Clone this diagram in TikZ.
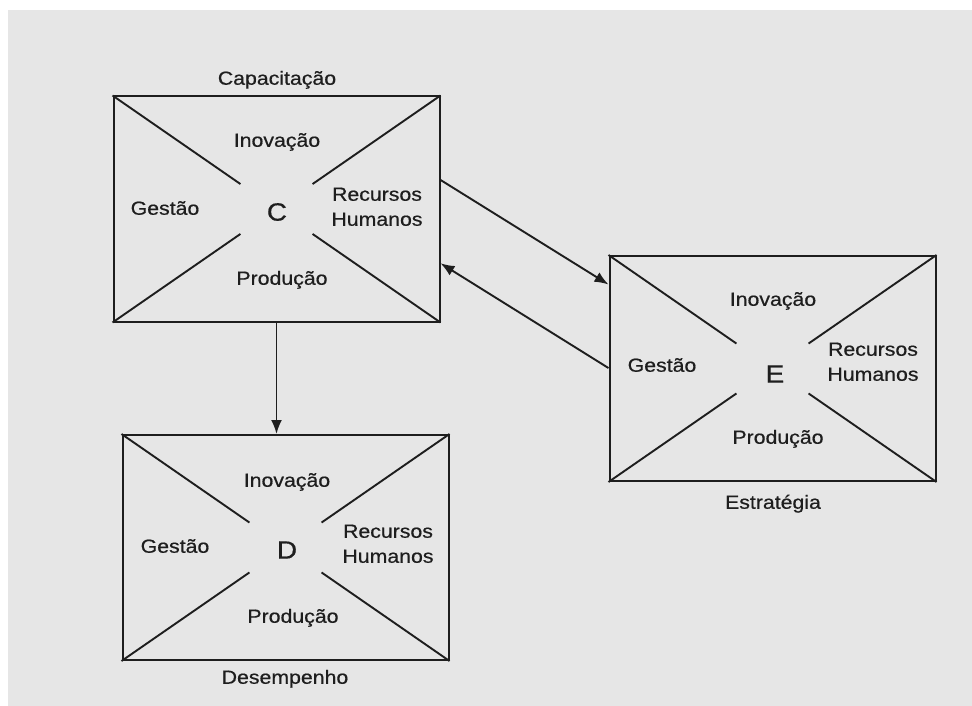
\documentclass[tikz,border=0pt]{standalone}
\usepackage{fontspec}
\setmainfont[FakeStretch=1.12, FakeBold=0.6]{Liberation Sans}
\usetikzlibrary{arrows.meta,calc}
\definecolor{ink}{HTML}{1E1E1E}
\definecolor{paper}{HTML}{E6E6E6}
\begin{document}
\begin{tikzpicture}[x=1pt,y=-1pt,
  frame/.style={draw=ink, line width=2pt, minimum width=326pt, minimum height=225pt, inner sep=0pt},
  lbl/.style={font=\fontsize{19}{25}\selectfont, text=ink, align=center, inner sep=0pt,
              text height=13.5pt, text depth=4pt},
  core/.style={font=\fontsize{25}{28}\selectfont, text=ink, inner sep=0pt},
  link/.style={draw=ink, line width=1.9pt, -{Latex[length=14pt,width=11pt]}},
  cross/.style={draw=ink, line width=1.9pt}]
\useasboundingbox (0,0) rectangle (972,706);
\fill[white] (0,0) rectangle (972,706);
\fill[paper] (8,10) rectangle (972,706);

% the three quadrant boxes
\node[frame] (C) at (276.5,209) {};
\node[frame] (E) at (772.5,368.5) {};
\node[frame] (D) at (285.5,547.5) {};

% broken diagonals leaving an open centre in each box
\foreach \b in {C,E,D}{
  \draw[cross] (\b.north west) -- ($(\b.north west)!0.39!(\b.south east)$);
  \draw[cross] (\b.south east) -- ($(\b.south east)!0.39!(\b.north west)$);
  \draw[cross] (\b.north east) -- ($(\b.north east)!0.39!(\b.south west)$);
  \draw[cross] (\b.south west) -- ($(\b.south west)!0.39!(\b.north east)$);
}

% box C
\node[lbl] (Ccap) at (277,80) {Capacitação};
\node[lbl] (Cino) at (277,142) {Inovação};
\node[lbl] (Cges) at (165,210) {Gestão};
\node[core] (Cc)  at (277,212) {C};
\node[lbl] (Crh)  at (377,221) {Recursos\\Humanos};
\node[lbl] (Cpro) at (282,280) {Produção};

% box E
\node[lbl] (Eino) at (773,301) {Inovação};
\node[lbl] (Eges) at (662,367) {Gestão};
\node[core] (Ee)  at (775,374) {E};
\node[lbl] (Erh)  at (873,376) {Recursos\\Humanos};
\node[lbl] (Epro) at (778,439) {Produção};
\node[lbl] (Eest) at (773,504) {Estratégia};

% box D
\node[lbl] (Dino) at (287,482) {Inovação};
\node[lbl] (Dges) at (175,548) {Gestão};
\node[core] (Dd)  at (287,550) {D};
\node[lbl] (Drh)  at (388,558) {Recursos\\Humanos};
\node[lbl] (Dpro) at (293,618) {Produção};
\node[lbl] (Ddes) at (285,679) {Desempenho};

% connectors
\draw[link] (C.south) -- (C.south |- D.north);
\draw[link] ($(C.north east)!0.372!(C.south east)$) -- ($(E.north west)!0.13!(E.south west)$);
\draw[link] ($(E.north west)!0.498!(E.south west)$) -- ($(C.north east)!0.739!(C.south east)$);
\end{tikzpicture}
\end{document}
